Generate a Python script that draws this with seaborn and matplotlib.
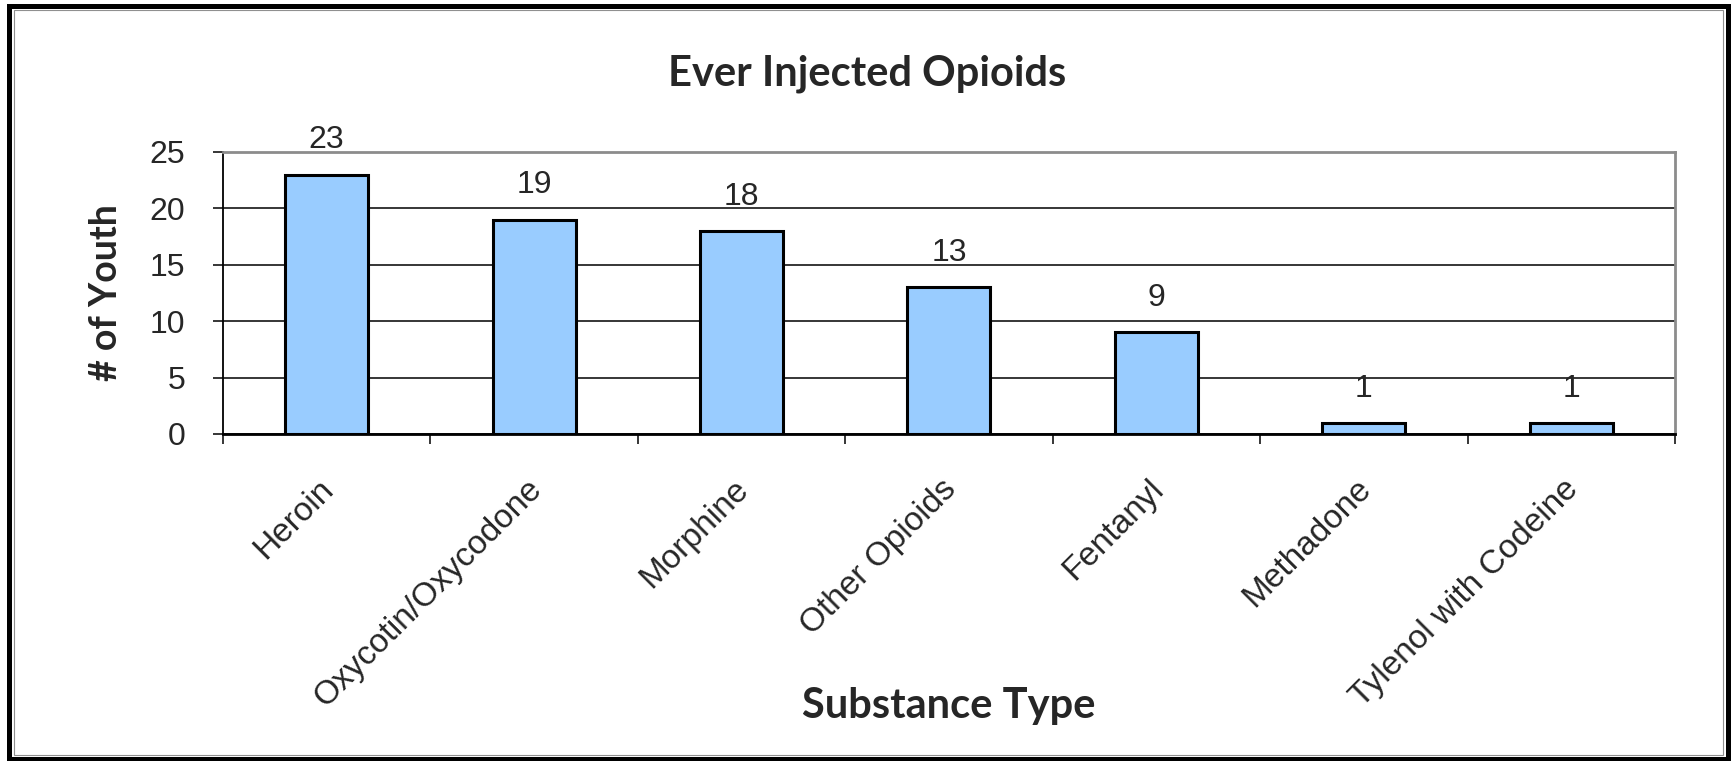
import matplotlib
matplotlib.use('Agg')
import matplotlib.pyplot as plt
import matplotlib.transforms as mtransforms
from matplotlib.patches import Rectangle
import seaborn as sns
import pandas as pd

# data
substances = ['Heroin', 'Oxycotin/Oxycodone', 'Morphine', 'Other Opioids',
              'Fentanyl', 'Methadone', 'Tylenol with Codeine']
youth_counts = [23, 19, 18, 13, 9, 1, 1]
y_ticks = [0, 5, 10, 15, 20, 25]

df = pd.DataFrame({'Substance': substances, 'Youth': youth_counts})

sns.set_style('white')
plt.rcParams['font.family'] = ['Liberation Sans', 'DejaVu Sans']

fig = plt.figure(figsize=(17.35, 7.61), dpi=100)
ax = fig.add_axes([0.1285, 0.4297, 0.8369, 0.3706])

sns.barplot(data=df, x='Substance', y='Youth', color='#99CCFF', saturation=1,
            width=0.4, edgecolor='black', linewidth=2.2, ax=ax, zorder=3)

ax.set_xlim(-0.5, len(substances) - 0.5)
ax.set_ylim(0, 25)
ax.set_yticks(y_ticks)
ax.yaxis.grid(True, color='black', lw=1.1)
ax.set_axisbelow(True)

for side in ['top', 'right']:
    ax.spines[side].set_color('#8c8c8c')
    ax.spines[side].set_linewidth(2)
ax.spines['left'].set_color('black')
ax.spines['left'].set_linewidth(1.3)
ax.spines['bottom'].set_color('black')
ax.spines['bottom'].set_linewidth(2)

# y ticks
ax.tick_params(axis='y', length=7.2, width=1.1, direction='out', pad=20,
               labelsize=23, color='black', left=True)
# x: labels at bars, tick marks between categories
ax.set_xticks([i - 0.5 for i in range(len(substances) + 1)], minor=True)
ax.tick_params(axis='x', which='minor', length=7.2, width=1.1, direction='out',
               color='black', bottom=True)
ax.tick_params(axis='x', which='major', length=0, pad=28.4, labelsize=24)
ax.set_xticks(range(len(substances)))
ax.set_xticklabels(substances, rotation=45, ha='right', va='top')
shift = mtransforms.ScaledTranslation(0.135, 0, fig.dpi_scale_trans)
for lab in ax.get_xticklabels():
    lab.set_transform(lab.get_transform() + shift)

ax.bar_label(ax.containers[0], padding=13.8, fontsize=23)

lab_font = dict(family=['Lato', 'DejaVu Sans'], weight='bold')
ax.set_xlabel('Substance Type', size=30, **lab_font)
ax.xaxis.set_label_coords(0.5, -1.007)
ax.xaxis.label.set_va('baseline')
ax.set_ylabel('# of Youth', size=27, **lab_font)
ax.yaxis.set_label_coords(-0.0806, 0.5)
ax.yaxis.label.set_va('center')

fig.text(0.5, 0.8883, 'Ever Injected Opioids', ha='center', va='baseline',
         size=30, **lab_font)

# chart frame
fig.patches.append(Rectangle((0.0052, 0.0026), 0.9905, 0.990, transform=fig.transFigure,
                             fill=False, lw=3.6, ec='black'))
fig.patches.append(Rectangle((0.0078, 0.0085), 0.9852, 0.9783, transform=fig.transFigure,
                             fill=False, lw=0.8, ec='#909090'))

fig.savefig('out.png', dpi=100)
